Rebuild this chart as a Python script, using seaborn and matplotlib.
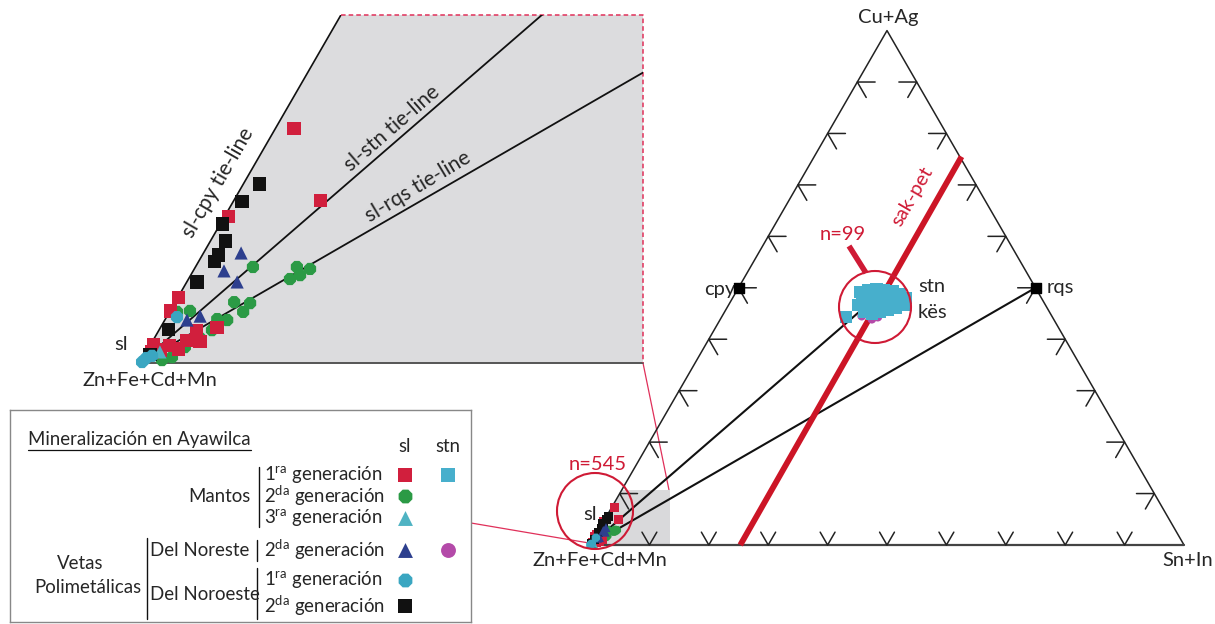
import numpy as np
import pandas as pd
import matplotlib
matplotlib.use('Agg')
import matplotlib.pyplot as plt
import seaborn as sns
from matplotlib.patches import Polygon, Circle

sns.set_theme(style='white')
plt.rcParams['font.family'] = ['Lato', 'DejaVu Sans']
plt.rcParams['mathtext.fontset'] = 'custom'
plt.rcParams['mathtext.rm'] = 'Lato'

# composiciones (% atomico Cu+Ag, % Sn+In; el resto es Zn+Fe+Cd+Mn)
m1_sl_cu = [7.2, 5.0, 4.5, 2.0, 1.6, 1.0, 1.1, 0.7, 0.55, 0.4, 0.43, 0.34, 0.65, 0.58]
m1_sl_sn = [0.5, 2.3, 0.1, 0.03, 0.01, 1.0, 1.5, 0.9, 0.52, 0.33, 0.8, 0.15, 1.27, 0.08]
m2_sl_cu = [2.95, 2.95, 2.89, 2.70, 2.58, 1.87, 1.84, 1.57, 1.57, 1.60, 1.35, 1.32,
            1.01, 0.77, 0.49, 0.18, 0.09]
m2_sl_sn = [1.53, 2.70, 3.08, 2.91, 2.70, 1.57, 2.01, 1.96, 0.20, 0.53, 1.38, 1.66,
            1.41, 1.21, 0.95, 0.76, 0.54]
m3_sl_cu = [0.34]
m3_sl_sn = [0.36]
ne2_sl_cu = [3.38, 2.83, 2.49, 1.32, 1.44]
ne2_sl_sn = [1.00, 0.82, 1.34, 0.59, 0.88]
no1_sl_cu = [1.41, 0.15, 0.22, 0.03]
no1_sl_sn = [0.28, 0.09, 0.21, 0.04]
no2_sl_cu = [5.5, 4.95, 4.27, 3.75, 3.32, 3.13, 2.49, 1.04, 0.25]
no2_sl_sn = [0.44, 0.24, 0.05, 0.41, 0.42, 0.41, 0.27, 0.23, 0.14]
m1_stn_cu = [49.2, 49.6, 49.8, 49.6, 49.4, 48.8, 48.0, 46.7, 46.1, 45.7, 45.3, 44.9,
             45.3, 46.7, 47.6, 48.0, 48.0, 47.6, 47.6, 46.7, 46.5, 44.3]
m1_stn_sn = [20.9, 22.0, 23.3, 24.7, 26.2, 27.8, 29.2, 29.5, 28.5, 27.3, 26.2, 25.0,
             23.5, 21.8, 22.0, 23.1, 24.5, 26.0, 27.4, 25.5, 23.6, 20.9]
ne2_stn_cu = [44.5, 43.9, 44.3]
ne2_stn_sn = [23.5, 25.5, 26.3]

# fases de referencia (Cu, Sn)
cpy = (50, 0)
stn = (50, 25)
rqs = (50, 50)

grupos = ['m2_sl', 'm1_sl', 'no2_sl', 'ne2_sl', 'm3_sl', 'no1_sl', 'ne2_stn', 'm1_stn']
datos = {'m1_sl': (m1_sl_cu, m1_sl_sn), 'm2_sl': (m2_sl_cu, m2_sl_sn),
         'm3_sl': (m3_sl_cu, m3_sl_sn), 'ne2_sl': (ne2_sl_cu, ne2_sl_sn),
         'no1_sl': (no1_sl_cu, no1_sl_sn), 'no2_sl': (no2_sl_cu, no2_sl_sn),
         'm1_stn': (m1_stn_cu, m1_stn_sn), 'ne2_stn': (ne2_stn_cu, ne2_stn_sn)}
colores = {'m1_sl': '#d11f3d', 'm2_sl': '#2b9a45', 'm3_sl': '#4fb3c3', 'ne2_sl': '#2d3f8e',
           'no1_sl': '#3aa6c1', 'no2_sl': '#111111', 'm1_stn': '#47afcc', 'ne2_stn': '#b44aa9'}
marcadores = {'m1_sl': 's', 'm2_sl': '8', 'm3_sl': '^', 'ne2_sl': '^',
              'no1_sl': '8', 'no2_sl': 's', 'm1_stn': 's', 'ne2_stn': 'o'}

S3 = np.sqrt(3) / 2


def tern(cu, sn):
    cu = np.asarray(cu, dtype=float) / 100
    sn = np.asarray(sn, dtype=float) / 100
    return sn + cu / 2, cu * S3


filas = []
for g in grupos:
    cu, sn = datos[g]
    x, y = tern(cu, sn)
    filas.append(pd.DataFrame({'X': x, 'Y': y, 'grupo': g}))
df = pd.concat(filas, ignore_index=True)
df_sl = df[df['grupo'].str.endswith('_sl')]
df_stn = df[df['grupo'].str.endswith('_stn')]

W_PX, H_PX = 1215, 624
fig = plt.figure(figsize=(12.15, 6.24), dpi=100)


def caja(x0, y0, x1, y1):
    return [x0 / W_PX, 1 - y1 / H_PX, (x1 - x0) / W_PX, (y1 - y0) / H_PX]


RED = '#cf1a35'
FS = 14.5

# capa de fondo para conectores
ax_o = fig.add_axes([0, 0, 1, 1], zorder=0)
ax_o.set_xlim(0, W_PX)
ax_o.set_ylim(H_PX, 0)
ax_o.axis('off')

# ---- triangulo principal ----
BL = (590, 545)
SIDE = 594
ax = fig.add_axes(caja(540, 0, 1215, 624), zorder=1)
ax.set_xlim((540 - BL[0]) / SIDE, (1215 - BL[0]) / SIDE)
ax.set_ylim((BL[1] - 624) / SIDE, BL[1] / SIDE)
ax.axis('off')


def P(px, py):
    return (px - BL[0]) / SIDE, (BL[1] - py) / SIDE


# zona ampliada
H_IN = 0.0926
W_IN = H_IN * 503 / 348
ax.add_patch(Polygon([(0, 0), (W_IN, 0), (W_IN, H_IN), (H_IN / np.sqrt(3), H_IN)],
                     closed=True, facecolor='#d9d9db', edgecolor='none', zorder=0))

ax.plot([0, 1, 0.5, 0], [0, 0, S3, 0], color='#222222', lw=1.1, zorder=2)
ax.plot([0, 1], [0, 0], color='#444444', lw=1.6, zorder=2)
for i in range(1, 10):
    f = i / 10
    px, py = f / 2, f * S3
    ax.plot([px + 0.03, px, px + 0.015], [py, py, py - S3 * 0.03], color='#222222', lw=1.1)
    ax.plot([f - 0.0125, f, f + 0.0125], [S3 * 0.025, 0, S3 * 0.025], color='#222222', lw=1.1)
    px, py = 1 - f / 2, f * S3
    ax.plot([px - 0.03, px, px - 0.015], [py, py, py - S3 * 0.03], color='#222222', lw=1.1)

# tie-lines
xs, ys = tern(*stn)
ax.plot([0, xs * 0.93], [0, ys * 0.93], color='#111111', lw=1.5, zorder=3)
xr, yr = tern(*rqs)
ax.plot([0, xr], [0, yr], color='#111111', lw=1.5, zorder=3)

# linea sak-pet (Sn+In = 25 %)
xa, ya = tern([0, 75.5], [25.3, 24.8])
ax.plot(xa, ya, color='#cc1526', lw=4.2, solid_capstyle='butt', zorder=3)
ax.text(*P(912, 196), 'sak-pet', color=RED, rotation=60, fontsize=FS,
        ha='center', va='center')

sns.scatterplot(data=df_sl, x='X', y='Y', hue='grupo', style='grupo', palette=colores,
                markers=marcadores, s=42, linewidth=0, legend=False, ax=ax, zorder=4)
sns.scatterplot(data=df_stn, x='X', y='Y', hue='grupo', style='grupo', size='grupo',
                palette=colores, markers=marcadores, sizes={'m1_stn': 80, 'ne2_stn': 40},
                linewidth=0, legend=False, ax=ax, zorder=4)
for fase in [cpy, rqs]:
    fx, fy = tern(*fase)
    ax.scatter([fx], [fy], marker='s', s=55, color='#000000', zorder=5)

ax.add_patch(Circle(P(875, 307), 36 / SIDE, facecolor='none', edgecolor=RED, lw=1.5, zorder=5))
ax.plot(*zip(P(849, 246), P(866, 273)), color=RED, lw=4, solid_capstyle='butt', zorder=5)
ax.text(*P(843, 234), 'n=99', color=RED, fontsize=FS, ha='center', va='center')
ax.add_patch(Circle(P(595, 511), 38 / SIDE, facecolor='none', edgecolor=RED, lw=1.5, zorder=5))
ax.text(*P(598, 465), 'n=545', color=RED, fontsize=FS, ha='center', va='center')

ax.text(*P(888, 18), 'Cu+Ag', fontsize=FS, ha='center', va='center')
ax.text(*P(600, 560), 'Zn+Fe+Cd+Mn', fontsize=FS, ha='center', va='center')
ax.text(*P(1188, 561), 'Sn+In', fontsize=FS, ha='center', va='center')
ax.text(*P(735, 289), 'cpy', fontsize=FS, ha='right', va='center')
ax.text(*P(1047, 287), 'rqs', fontsize=FS, ha='left', va='center')
ax.text(*P(918, 286), 'stn', fontsize=FS, ha='left', va='center')
ax.text(*P(918, 312), 'kës', fontsize=FS, ha='left', va='center')
ax.text(*P(590, 514), 'sl', fontsize=FS, ha='center', va='center')

# conectores
ax_o.plot([643, 669], [363, 490], color='#e0305a', lw=0.9)
ax_o.plot([471, 589], [523, 543], color='#e0305a', lw=0.9)

# ---- ampliacion ----
ax_in = fig.add_axes(caja(140, 15, 643, 363), zorder=2)
ax_in.set_xlim(0, W_IN)
ax_in.set_ylim(0, H_IN)
ax_in.axis('off')
ax_in.add_patch(Polygon([(0, 0), (W_IN, 0), (W_IN, H_IN), (H_IN / np.sqrt(3), H_IN)],
                        closed=True, facecolor='#dcdcde', edgecolor='none', zorder=0))
ax_in.plot([0, H_IN / np.sqrt(3)], [0, H_IN], color='#111111', lw=1.2, zorder=2)
ax_in.plot([0, W_IN], [0, 0], color='#555555', lw=1.4, zorder=2, clip_on=False)
ax_in.plot([H_IN / np.sqrt(3), W_IN, W_IN], [H_IN, H_IN, 0], color='#e0305a', lw=1.1,
           ls=(0, (3, 2)), zorder=2, clip_on=False)
ax_in.plot([0, xs], [0, ys], color='#111111', lw=1.3, zorder=2)
ax_in.plot([0, xr], [0, yr], color='#111111', lw=1.3, zorder=2)
sns.scatterplot(data=df, x='X', y='Y', hue='grupo', style='grupo', palette=colores,
                markers=marcadores, s=90, linewidth=0, legend=False, ax=ax_in,
                zorder=4, clip_on=False)


def Q(px, py):
    return (px - 140) / 503 * W_IN, (363 - py) / 348 * H_IN


TF = 15
ax_in.text(*Q(218, 183), 'sl-cpy tie-line', rotation=60, fontsize=TF, ha='center', va='center')
ax_in.text(*Q(392, 128), 'sl-stn tie-line', rotation=41, fontsize=TF, ha='center', va='center')
ax_in.text(*Q(418, 187), 'sl-rqs tie-line', rotation=31, fontsize=TF, ha='center', va='center')
ax_o.text(121, 344, 'sl', fontsize=FS, ha='center', va='center')
ax_o.text(150, 380, 'Zn+Fe+Cd+Mn', fontsize=FS, ha='center', va='center')

# ---- leyenda ----
ax_l = fig.add_axes(caja(10, 410, 471, 622), zorder=3)
ax_l.set_xlim(10, 471)
ax_l.set_ylim(622, 410)
ax_l.set_xticks([])
ax_l.set_yticks([])
ax_l.set_facecolor('white')
for sp in ax_l.spines.values():
    sp.set_color('#888888')
    sp.set_linewidth(1)

LF = 13.4
tit = ax_l.text(28, 439, 'Mineralización en Ayawilca', fontsize=LF, ha='left', va='center')
fig.canvas.draw()
bb = tit.get_window_extent(fig.canvas.get_renderer())
x_fin = ax_l.transData.inverted().transform((bb.x1, bb.y0))[0]
ax_l.plot([28, x_fin], [450, 450], color='#111111', lw=0.9)
ax_l.text(405, 446, 'sl', fontsize=LF, ha='center', va='center')
ax_l.text(448, 446, 'stn', fontsize=LF, ha='center', va='center')

filas_y = [475, 496, 518, 550, 580, 606]
gen = ['1$^{\\rm ra}$ generación', '2$^{\\rm da}$ generación', '3$^{\\rm ra}$ generación',
       '2$^{\\rm da}$ generación', '1$^{\\rm ra}$ generación', '2$^{\\rm da}$ generación']
ley_sl = ['m1_sl', 'm2_sl', 'm3_sl', 'ne2_sl', 'no1_sl', 'no2_sl']
ley_stn = {0: 'm1_stn', 3: 'ne2_stn'}
for i, (yy, txt, g) in enumerate(zip(filas_y, gen, ley_sl)):
    ax_l.text(264, yy, txt, fontsize=LF, ha='left', va='center')
    ax_l.scatter([405], [yy], marker=marcadores[g], s=115, color=colores[g], linewidth=0)
    if i in ley_stn:
        g2 = ley_stn[i]
        ax_l.scatter([448], [yy], marker=marcadores[g2], s=115, color=colores[g2], linewidth=0)

ax_l.text(251, 496, 'Mantos', fontsize=LF, ha='right', va='center')
ax_l.plot([259, 259], [467, 527], color='#111111', lw=1)
ax_l.text(150, 550, 'Del Noreste', fontsize=LF, ha='left', va='center')
ax_l.plot([257, 257], [540, 561], color='#111111', lw=1)
ax_l.text(150, 594, 'Del Noroeste', fontsize=LF, ha='left', va='center')
ax_l.plot([257, 257], [568, 619], color='#111111', lw=1)
ax_l.text(80, 563, 'Vetas', fontsize=LF, ha='center', va='center')
ax_l.text(88, 587, 'Polimetálicas', fontsize=LF, ha='center', va='center')
ax_l.plot([147, 147], [538, 619], color='#111111', lw=1)

fig.savefig('out.png', dpi=100, facecolor='white')
